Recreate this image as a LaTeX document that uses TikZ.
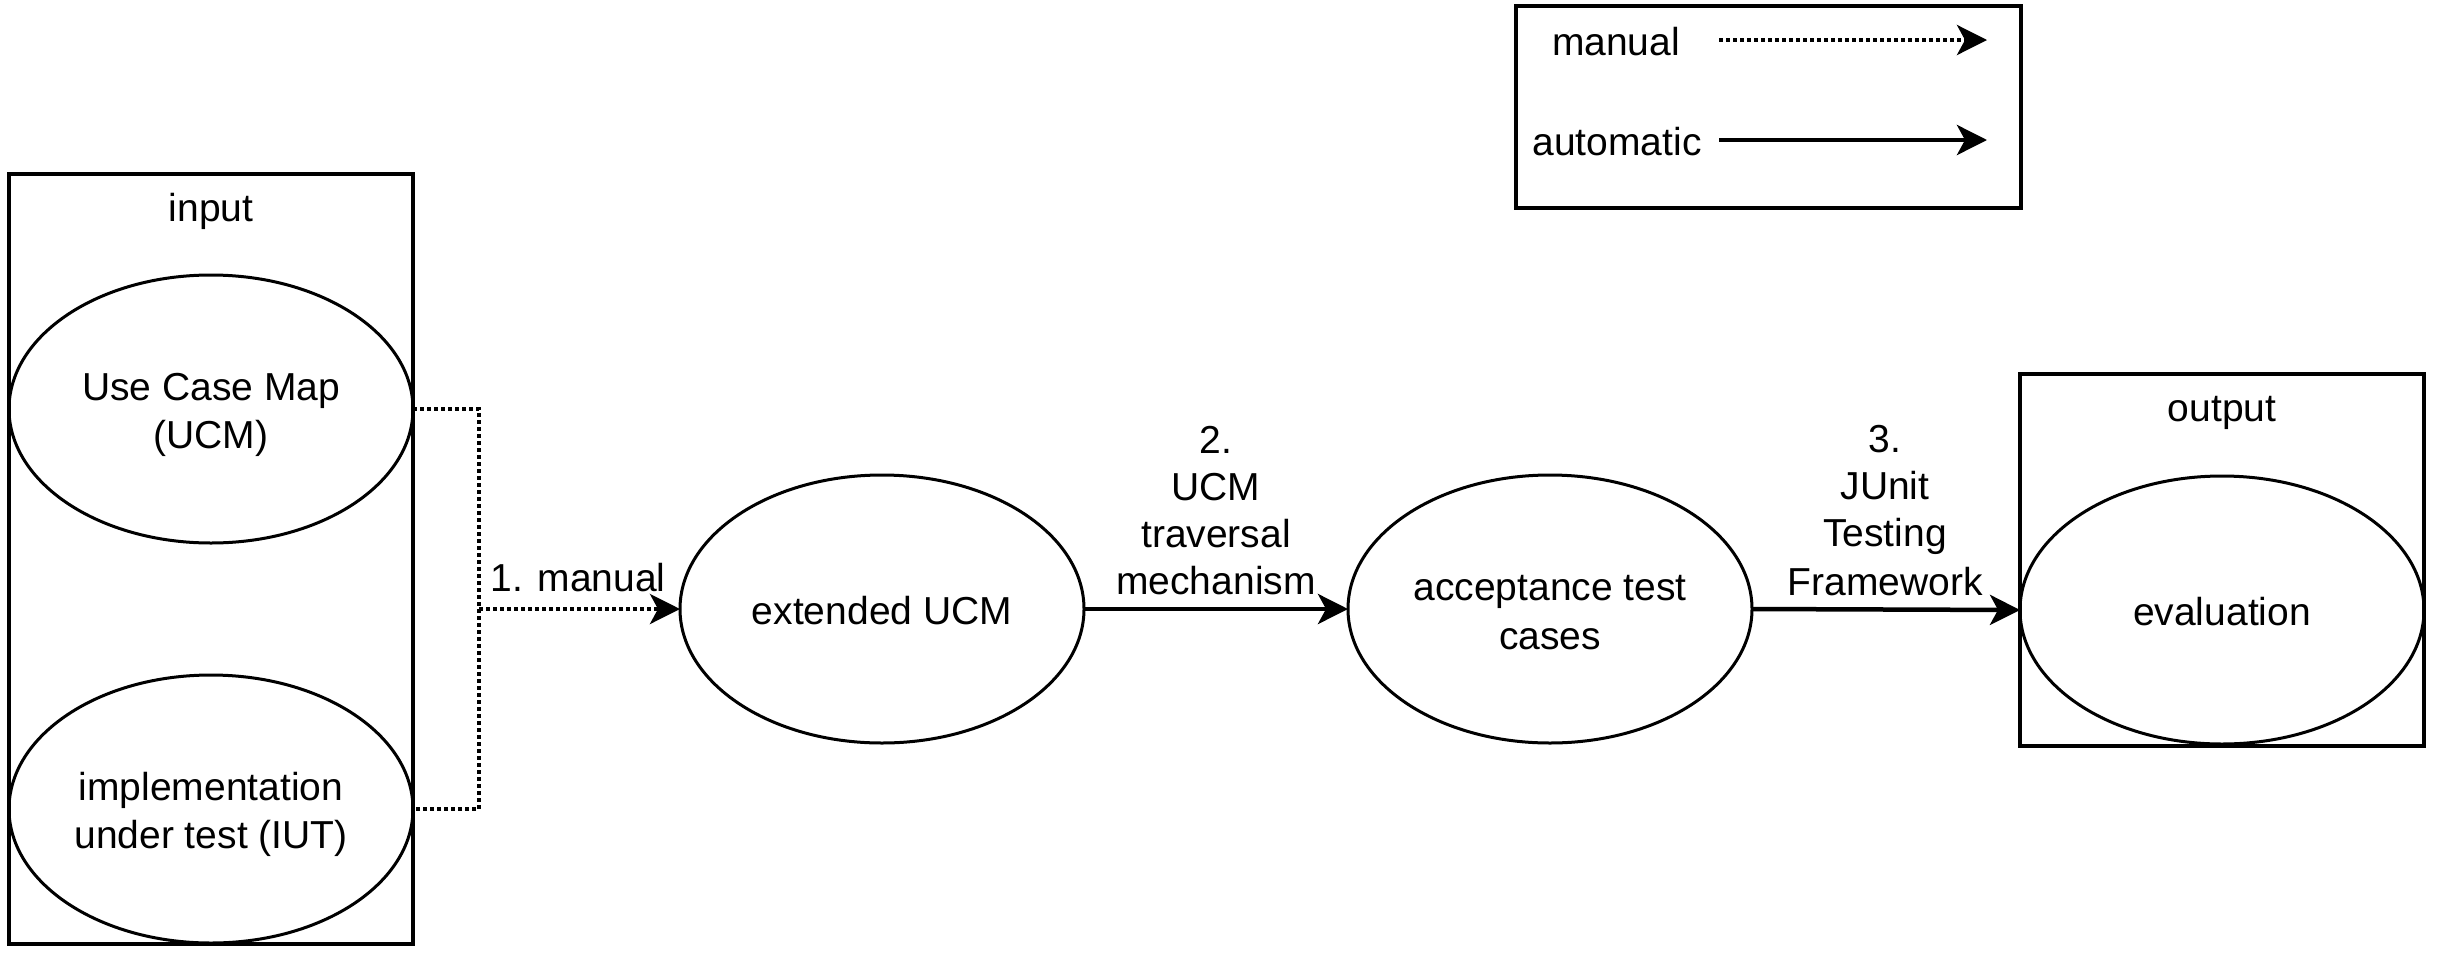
\documentclass[tikz,border=0pt]{standalone}
\usepackage{fontspec}
\setmainfont{Liberation Sans}
\usetikzlibrary{shapes.geometric,arrows.meta}
\newcommand\lst{\rule[-7.7pt]{0pt}{47pt}}
\begin{document}
\begin{tikzpicture}[x=1pt,y=-1pt,
  every node/.style={font=\fontsize{39pt}{47pt}\selectfont, inner sep=0pt, outer sep=0pt, align=center},
  oval/.style={draw, ellipse, line width=3pt, minimum width=404pt, minimum height=268pt},
  frame/.style={draw, rectangle, line width=4.5pt},
  tiphead/.style={-{Stealth[length=30pt,width=30pt,inset=8pt]}},
  autoarrow/.style={line width=4.5pt, tiphead},
  dotline/.style={line width=4pt, dash pattern=on 4pt off 3pt},
  manarrow/.style={dotline, tiphead},
]
\fill[white] (0,0) rectangle (2438,956);
\useasboundingbox (0,0) rectangle (2438,956);

% frames
\node[frame, minimum width=404pt, minimum height=770pt] (inbox) at (211,559) {};
\node[frame, minimum width=404pt, minimum height=372pt] (outbox) at (2222,560) {};
\node[frame, minimum width=505pt, minimum height=202pt] (legend) at (1768.5,107) {};

\node (intitle) at (211,206) {\lst input};
\node (outtitle) at (2222,406) {\lst output};

% ellipses
\node[oval] (ucm) at (211,409) {\lst Use Case Map\\\lst (UCM)};
\node[oval] (iut) at (211,809) {\lst implementation\\\lst under test (IUT)};
\node[oval] (ext) at (882,609) {\lst extended UCM};
\node[oval] (acc) at (1550,609) {\lst acceptance test\\\lst cases};
\node[oval] (eval) at (2222,610) {\lst evaluation};

% manual merge
\coordinate (j) at (479,609);
\draw[dotline] (ucm.east) -| (j) |- (iut.east);
\draw[manarrow] (j) -- (ext.west);
\node (l1) at (578,576) {\lst 1. manual};

% automatic steps
\draw[autoarrow] (ext.east) -- (acc.west);
\node (l2) at (1216,508) {\lst 2.\\\lst UCM\\\lst traversal\\\lst mechanism};
\draw[autoarrow] (acc.east) -- (eval.west);
\node (l3) at (1885,508) {\lst 3.\\\lst JUnit\\\lst Testing\\\lst Framework};

% legend
\node (lgman) at (1616,40) {\lst manual};
\node (lgauto) at (1617,140) {\lst automatic};
\coordinate (m1) at (1719,40);
\coordinate (m2) at (1987,40);
\coordinate (a1) at (1719,140);
\coordinate (a2) at (1987,140);
\draw[manarrow] (m1) -- (m2);
\draw[autoarrow] (a1) -- (a2);
\end{tikzpicture}
\end{document}
